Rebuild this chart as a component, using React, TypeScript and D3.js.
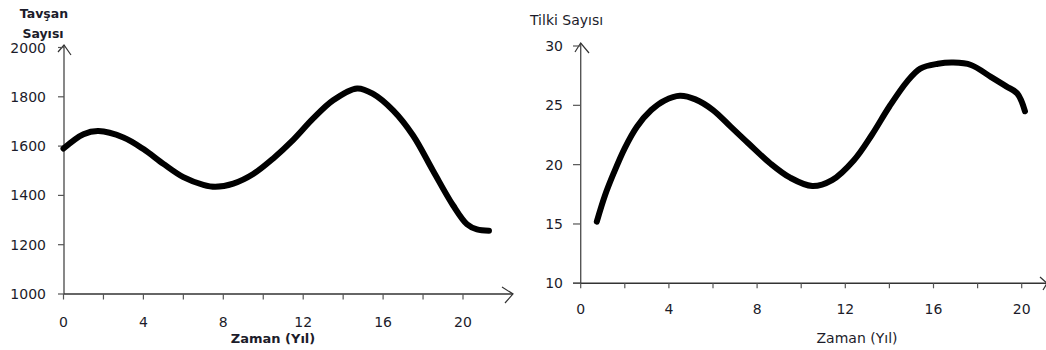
import React from "react";
import * as d3 from "d3";

// Rabbit population (left chart)
const rabbitYears = [0, 1, 1.75, 3, 4, 5, 6, 7, 7.6, 8.5, 9.5, 10.5, 11.5, 12.5, 13.5, 14.7, 15.5, 16.5, 17.5, 18.5, 19.5, 20.2, 20.7, 21.3];
const rabbitValues = [1590, 1648, 1661, 1635, 1588, 1528, 1474, 1443, 1435, 1448, 1487, 1550, 1625, 1712, 1786, 1834, 1812, 1745, 1643, 1500, 1360, 1283, 1262, 1257];

// Fox population (right chart)
const foxYears = [0.73, 1.1, 1.5, 2.0, 2.55, 3.2, 3.8, 4.5, 5.2, 6.0, 6.8, 7.6, 8.6, 9.5, 10.5, 11.4, 12.4, 13.2, 14.0, 14.8, 15.4, 16.2, 16.9, 17.7, 18.6, 19.3, 19.8, 20.15];
const foxValues = [15.2, 17.4, 19.3, 21.4, 23.2, 24.6, 25.4, 25.8, 25.5, 24.6, 23.2, 21.8, 20.1, 18.9, 18.2, 18.7, 20.4, 22.5, 24.9, 27.0, 28.1, 28.5, 28.6, 28.4, 27.4, 26.6, 26.0, 24.5];

const xTicks = [0, 2, 4, 6, 8, 10, 12, 14, 16, 18, 20];
const xTickLabels = [0, 4, 8, 12, 16, 20];
const rabbitYTicks = [1000, 1200, 1400, 1600, 1800, 2000];
const foxYTicks = [10, 15, 20, 25, 30];

const FONT = "'DejaVu Sans', Verdana, sans-serif";
const AXIS = "#555";
const TXT = "#1c1c2a";

export default function App() {
  const xL = d3.scaleLinear().domain([0, 20]).range([63.5, 463]);
  const yL = d3.scaleLinear().domain([1000, 2000]).range([294, 47.5]);
  const xR = d3.scaleLinear().domain([0, 20]).range([580.7, 1021.7]);
  const yR = d3.scaleLinear().domain([10, 30]).range([283.3, 46]);

  const lineL = d3
    .line<number>()
    .x((_, i) => xL(rabbitYears[i]))
    .y((d) => yL(d))
    .curve(d3.curveCatmullRom.alpha(0.5));
  const lineR = d3
    .line<number>()
    .x((_, i) => xR(foxYears[i]))
    .y((d) => yR(d))
    .curve(d3.curveCatmullRom.alpha(0.5));

  const axL = { x0: 64, y0: 294 };
  const axR = { x0: 580.7, y0: 283.3 };

  return (
    <svg
      width={1046}
      height={350}
      style={{ position: "absolute", left: 0, top: 0, background: "#fff" }}
      fontFamily={FONT}
    >
      {/* ---------- Left chart ---------- */}
      <g>
        <text x={44} y={13} textAnchor="middle" dominantBaseline="central" fontSize={12.5} fontWeight="bold" fill={TXT}>
          Tavşan
        </text>
        <text x={43} y={33} textAnchor="middle" dominantBaseline="central" fontSize={12.5} fontWeight="bold" fill={TXT}>
          Sayısı
        </text>
        {/* axes */}
        <line x1={axL.x0} y1={axL.y0} x2={axL.x0} y2={45} stroke={AXIS} strokeWidth={1.4} />
        <polyline points={`58,52 ${axL.x0},45 71,55`} fill="none" stroke="#333" strokeWidth={1.2} />
        <line x1={axL.x0} y1={axL.y0} x2={513} y2={axL.y0} stroke="#333" strokeWidth={1.4} />
        <polyline points={`502,287 513,294 505,303`} fill="none" stroke="#333" strokeWidth={1.2} />
        {rabbitYTicks.map((v) => (
          <g key={v}>
            <line x1={58} x2={axL.x0} y1={yL(v)} y2={yL(v)} stroke={AXIS} strokeWidth={1.2} />
            <text x={46} y={yL(v)} textAnchor="end" dominantBaseline="central" fontSize={14} fill={TXT}>
              {v}
            </text>
          </g>
        ))}
        {xTicks.map((t) => (
          <line key={t} x1={xL(t)} x2={xL(t)} y1={axL.y0} y2={axL.y0 + 5.5} stroke={AXIS} strokeWidth={1.2} />
        ))}
        {xTickLabels.map((t) => (
          <text key={t} x={xL(t)} y={322} textAnchor="middle" dominantBaseline="central" fontSize={14} fill={TXT}>
            {t}
          </text>
        ))}
        <text x={273} y={338} textAnchor="middle" dominantBaseline="central" fontSize={13} fontWeight="bold" fill={TXT}>
          Zaman (Yıl)
        </text>
        <path d={lineL(rabbitValues) || ""} fill="none" stroke="#000" strokeWidth={6} strokeLinecap="round" strokeLinejoin="round" />
      </g>

      {/* ---------- Right chart ---------- */}
      <g>
        <text x={530} y={20} dominantBaseline="central" fontSize={14} fill={TXT}>
          Tilki Sayısı
        </text>
        <line x1={axR.x0} y1={axR.y0} x2={axR.x0} y2={43} stroke={AXIS} strokeWidth={1.4} />
        <polyline points={`575,52 ${axR.x0},43 589,53`} fill="none" stroke="#333" strokeWidth={1.2} />
        <line x1={573} y1={axR.y0} x2={1046} y2={axR.y0} stroke="#333" strokeWidth={1.4} />
        <polyline points={`1040,277 1047,283.3 1043,290`} fill="none" stroke="#333" strokeWidth={1.2} />
        {foxYTicks.map((v) => (
          <g key={v}>
            <line x1={573} x2={axR.x0} y1={yR(v)} y2={yR(v)} stroke={AXIS} strokeWidth={1.2} />
            <text x={563} y={yR(v)} textAnchor="end" dominantBaseline="central" fontSize={14} fill={TXT}>
              {v}
            </text>
          </g>
        ))}
        {xTicks.map((t) => (
          <line key={t} x1={xR(t)} x2={xR(t)} y1={axR.y0} y2={axR.y0 + 5} stroke={AXIS} strokeWidth={1.2} />
        ))}
        {xTickLabels.map((t) => (
          <text key={t} x={xR(t)} y={309} textAnchor="middle" dominantBaseline="central" fontSize={14} fill={TXT}>
            {t}
          </text>
        ))}
        <text x={857} y={338} textAnchor="middle" dominantBaseline="central" fontSize={14} fill={TXT}>
          Zaman (Yıl)
        </text>
        <path d={lineR(foxValues) || ""} fill="none" stroke="#000" strokeWidth={6} strokeLinecap="round" strokeLinejoin="round" />
      </g>
    </svg>
  );
}
